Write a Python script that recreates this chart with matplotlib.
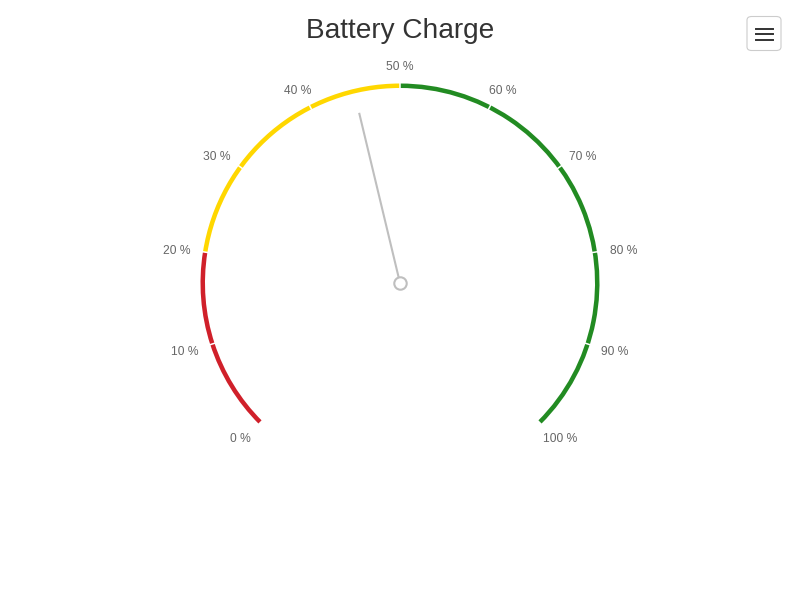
import numpy as np
import matplotlib.pyplot as plt
from matplotlib.patches import FancyBboxPatch

# gauge data
TITLE = "Battery Charge"
VALUE = 45
SCALE_MIN, SCALE_MAX = 0, 100
TICKS = [0, 10, 20, 30, 40, 50, 60, 70, 80, 90, 100]
BAND_FROM = [0, 20, 50]
BAND_TO = [20, 50, 100]
BAND_COLORS = ["#D0202A", "#FFD700", "#228B22"]

START_DEG, END_DEG = -135, 135
R_IN, R_OUT = 195, 199.5      # band radii in pixels
R_LABEL = 218
R_NEEDLE = 175
LABEL_COLOR = "#666666"

plt.rcParams["font.family"] = ["Liberation Sans", "DejaVu Sans"]


def to_theta(v):
    frac = (v - SCALE_MIN) / (SCALE_MAX - SCALE_MIN)
    return np.radians(START_DEG + frac * (END_DEG - START_DEG))


fig = plt.figure(figsize=(8, 6), dpi=100)
fig.patch.set_facecolor("white")

# polar axes whose radius unit equals one pixel, centred at (400, 283)
cx, cy, half = 400, 283, 240
ax = fig.add_axes([(cx - half) / 800, (600 - cy - half) / 600,
                   2 * half / 800, 2 * half / 600], projection="polar")
ax.set_theta_zero_location("N")
ax.set_theta_direction(-1)
ax.set_ylim(0, half)
ax.axis("off")

# colour bands
for lo, hi, col in zip(BAND_FROM, BAND_TO, BAND_COLORS):
    ax.bar(to_theta(lo), R_OUT - R_IN, width=to_theta(hi) - to_theta(lo),
           bottom=R_IN, align="edge", color=col, edgecolor="none", lw=0)

# tick marks (white notches) and labels
for t in TICKS:
    th = to_theta(t)
    ax.plot([th, th], [R_IN - 1, R_OUT + 1], color="white", lw=1.1,
            solid_capstyle="butt")
    # labels sit a little wider on the sides (text width)
    ax.annotate(f"{t} %", xy=(th, R_LABEL), xytext=(8 * np.sin(th), -2),
                textcoords="offset pixels", ha="center", va="center",
                fontsize=8.64, color=LABEL_COLOR)

# needle and pivot
th = to_theta(VALUE)
ax.plot([th, th], [0, R_NEEDLE], color="#BFBFBF", lw=1.5,
        solid_capstyle="butt", zorder=4)
ax.scatter([0], [0], s=80, facecolor="white", edgecolor="#BFBFBF",
           linewidths=1.5, zorder=5)

fig.text(0.5, 1 - 31 / 600, TITLE, ha="center", va="center",
         fontsize=20.2, color="#333333")

# context menu button
btn = FancyBboxPatch((747 / 800, 1 - 50.5 / 600), 34 / 800, 34 / 600,
                     boxstyle="round,pad=0,rounding_size=0.006",
                     transform=fig.transFigure, facecolor="white",
                     edgecolor="#CCCCCC", lw=0.8)
fig.patches.append(btn)
for yy in (28.5, 34, 39.5):
    fig.add_artist(plt.Line2D([756 / 800, 773 / 800],
                              [1 - yy / 600, 1 - yy / 600],
                              transform=fig.transFigure,
                              color="#333333", lw=1.4))

fig.savefig("out.png", dpi=100, facecolor="white")
